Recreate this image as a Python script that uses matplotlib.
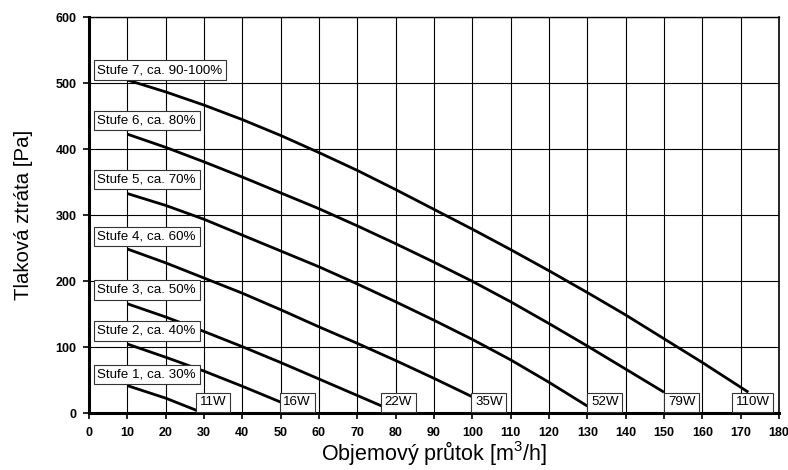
import matplotlib
matplotlib.use('Agg')
import matplotlib.pyplot as plt

plt.rcParams['font.family'] = ['Liberation Sans', 'DejaVu Sans']
plt.rcParams['mathtext.fontset'] = 'custom'
plt.rcParams['mathtext.rm'] = 'Liberation Sans'
plt.rcParams['mathtext.it'] = 'Liberation Sans:italic'

# flow [m3/h] and pressure loss [Pa], one pair per fan stage
s1_flow = [10, 20, 30]
s1_pa = [42, 23, 0]
s2_flow = [10, 20, 30, 40, 50]
s2_pa = [105, 85, 64, 41, 17]
s3_flow = [10, 20, 30, 40, 50, 60, 70, 80]
s3_pa = [166, 146, 124, 101, 77, 52, 27, 2]
s4_flow = [10, 20, 30, 40, 50, 60, 70, 80, 90, 100]
s4_pa = [249, 228, 205, 182, 157, 131, 106, 80, 53, 25]
s5_flow = [10, 20, 30, 40, 50, 60, 70, 80, 90, 100, 110, 120, 130]
s5_pa = [333, 315, 294, 270, 246, 222, 196, 169, 141, 112, 81, 47, 11]
s6_flow = [10, 20, 30, 40, 50, 60, 70, 80, 90, 100, 110, 120, 130, 140, 150]
s6_pa = [423, 403, 381, 358, 334, 310, 284, 257, 229, 200, 169, 136, 102, 67, 32]
s7_flow = [10, 20, 30, 40, 50, 60, 70, 80, 90, 100, 110, 120, 130, 140, 150, 160, 172]
s7_pa = [505, 487, 467, 445, 421, 395, 368, 339, 309, 279, 248, 216, 183, 149, 113, 77, 32]

stage_names = ['Stufe 1, ca. 30%', 'Stufe 2, ca. 40%', 'Stufe 3, ca. 50%',
               'Stufe 4, ca. 60%', 'Stufe 5, ca. 70%', 'Stufe 6, ca. 80%',
               'Stufe 7, ca. 90-100%']
power_labels = ['11W', '16W', '22W', '35W', '52W', '79W', '110W']

flows = [s1_flow, s2_flow, s3_flow, s4_flow, s5_flow, s6_flow, s7_flow]
losses = [s1_pa, s2_pa, s3_pa, s4_pa, s5_pa, s6_pa, s7_pa]

# where the boxed labels sit (data coords)
name_y = [59, 125, 187, 268, 354, 444, 520]
power_x = [29, 50.7, 77.1, 100.7, 131, 151, 168.7]

fig = plt.figure(figsize=(7.88, 4.70), dpi=100)
ax = fig.add_axes([0.1129, 0.1206, 0.8757, 0.8426])

for fl, pa in zip(flows, losses):
    ax.plot(fl, pa, color='black', linewidth=2.0, solid_capstyle='butt',
            solid_joinstyle='round', zorder=3)

box = dict(boxstyle='square,pad=0.28', facecolor='white', edgecolor='#333333', linewidth=0.8)
for name, y in zip(stage_names, name_y):
    ax.text(2.2, y, name, fontsize=9.6, ha='left', va='center', bbox=box, zorder=5)
for lab, x in zip(power_labels, power_x):
    ax.text(x, 16.6, lab, fontsize=9.6, ha='left', va='center', bbox=box, zorder=5)

ax.set_xlim(0, 180)
ax.set_ylim(0, 600)
ax.set_xticks(range(0, 181, 10))
ax.set_yticks(range(0, 601, 100))
ax.grid(True, color='black', linewidth=0.8, zorder=1)
ax.set_axisbelow(True)

for lab in ax.get_xticklabels() + ax.get_yticklabels():
    lab.set_fontweight('bold')
ax.tick_params(axis='both', labelsize=9, length=4, width=1.2, direction='out')
ax.tick_params(axis='x', pad=6)
ax.tick_params(axis='y', pad=5)

ax.spines['left'].set_linewidth(2.2)
ax.spines['bottom'].set_linewidth(2.2)
ax.spines['top'].set_linewidth(1.0)
ax.spines['right'].set_linewidth(1.2)

ax.set_xlabel('Objemový průtok [m$^3$/h]', fontsize=15.5, labelpad=0)
ax.set_ylabel('Tlaková ztráta [Pa]', fontsize=14.7, labelpad=16)

fig.savefig('out.png', dpi=100)
